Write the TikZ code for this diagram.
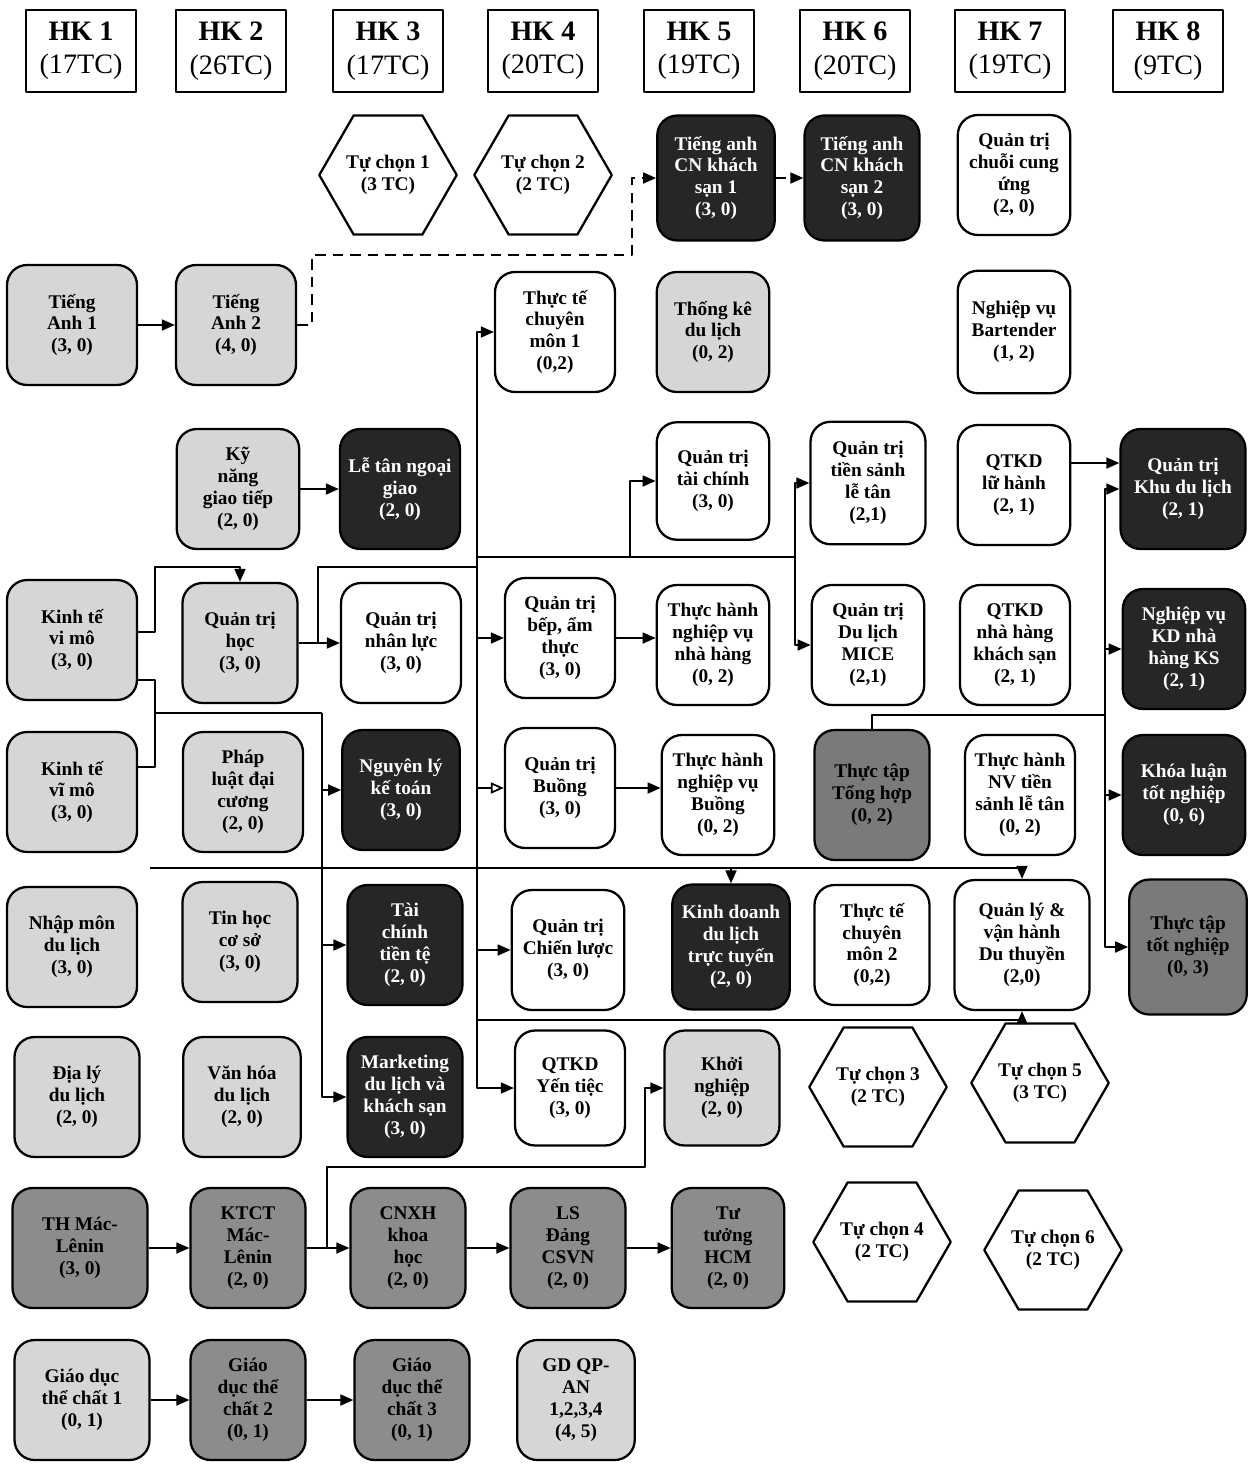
\documentclass[tikz,border=0pt]{standalone}
\usepackage{fontspec}
\setmainfont{Liberation Serif}
\usetikzlibrary{calc,positioning,shapes.geometric,arrows.meta}
\definecolor{BasicGray}{HTML}{D6D6D6}
\definecolor{CoreGray}{HTML}{8C8C8C}
\definecolor{InternGray}{HTML}{7A7A7A}
\definecolor{MajorDark}{HTML}{262626}
\newcommand\subjfont{\fontsize{11}{12.5}\selectfont\bfseries}
\newcommand\termfont{\fontsize{16}{19}\selectfont}

\tikzset{
  course/.style={draw,line width=1.3pt,rounded corners=0.4cm,align=center,font=\subjfont,
    minimum width=2.3cm,minimum height=2.4cm,inner sep=2pt},
  basic/.style={course,fill=BasicGray},
  core/.style={course,fill=CoreGray},
  intern/.style={course,fill=InternGray},
  major/.style={course,fill=MajorDark,text=white},
  plain/.style={course,fill=white},
  elective/.style={draw,line width=1.3pt,regular polygon,regular polygon sides=6,
    minimum size=2.75cm,inner sep=0pt,align=center,font=\subjfont},
  term/.style={draw,line width=1pt,minimum width=2.2cm,minimum height=1.64cm,align=center,font=\termfont},
  link/.style={line width=1pt,-{Triangle[length=2.6mm,width=2.2mm]}},
  wire/.style={line width=1pt},
  dashlink/.style={link,dash pattern=on 6pt off 4pt},
}

\begin{document}
\begin{tikzpicture}[x=0.02cm,y=-0.02cm,line join=round]
  \useasboundingbox[fill=white] (0,0) rectangle (1252,1464);
  % semesters
  \foreach \x/\k/\tc in {81/1/17,231/2/26,388/3/17,543/4/20,699/5/19,855/6/20,1010/7/19,1168/8/9}
    \node[term] (hk\k) at (\x,51) {\textbf{HK \k}\\(\tc TC)};

  % HK 1
  \node[basic,minimum width=2.6cm] (ta1) at (72,325) {Tiếng\\Anh 1\\(3, 0)};
  \node[basic,minimum width=2.6cm] (ktvi) at (72,640) {Kinh tế\\vi mô\\(3, 0)};
  \node[basic,minimum width=2.6cm] (ktvm) at (72,792) {Kinh tế\\vĩ mô\\(3, 0)};
  \node[basic,minimum width=2.6cm] (nmdl) at (72,947) {Nhập môn\\du lịch\\(3, 0)};
  \node[basic,minimum width=2.5cm] (dldl) at (77,1097) {Địa lý\\du lịch\\(2, 0)};
  \node[core,minimum width=2.7cm] (mln) at (80,1248) {TH Mác-\\Lênin\\(3, 0)};
  \node[basic,minimum width=2.7cm] (gd1) at (82,1400) {Giáo dục\\thể chất 1\\(0, 1)};

  % HK 2
  \node[basic,minimum width=2.4cm] (ta2) at (236,325) {Tiếng\\Anh 2\\(4, 0)};
  \node[basic,minimum width=2.45cm] (kngt) at (238,489) {Kỹ\\năng\\giao tiếp\\(2, 0)};
  \node[basic] (qth) at (240,643) {Quản trị\\học\\(3, 0)};
  \node[basic,minimum width=2.4cm] (pldc) at (243,792) {Pháp\\luật đại\\cương\\(2, 0)};
  \node[basic] (thcs) at (240,942) {Tin học\\cơ sở\\(3, 0)};
  \node[basic,minimum width=2.35cm] (vhdl) at (242,1097) {Văn hóa\\du lịch\\(2, 0)};
  \node[core] (ktct) at (248,1248) {KTCT\\Mác-\\Lênin\\(2, 0)};
  \node[core] (gd2) at (248,1400) {Giáo\\dục thể\\chất 2\\(0, 1)};

  % HK 3
  \node[elective] (tc1) at (388,175) {Tự chọn 1\\(3 TC)};
  \node[major,minimum width=2.4cm] (ltng) at (400,489) {Lễ tân ngoại\\giao\\(2, 0)};
  \node[plain,minimum width=2.4cm] (qtnl) at (401,643) {Quản trị\\nhân lực\\(3, 0)};
  \node[major,minimum width=2.35cm] (nlkt) at (401,790) {Nguyên lý\\kế toán\\(3, 0)};
  \node[major] (tctt) at (405,945) {Tài\\chính\\tiền tệ\\(2, 0)};
  \node[major] (mkt) at (405,1097) {Marketing\\du lịch và\\khách sạn\\(3, 0)};
  \node[core] (cnxh) at (408,1248) {CNXH\\khoa\\học\\(2, 0)};
  \node[core] (gd3) at (412,1400) {Giáo\\dục thể\\chất 3\\(0, 1)};

  % HK 4
  \node[elective] (tc2) at (543,175) {Tự chọn 2\\(2 TC)};
  \node[plain,minimum width=2.4cm] (tt1) at (555,332) {Thực tế\\chuyên\\môn 1\\(0,2)};
  \node[plain,minimum width=2.2cm] (qtbep) at (560,638) {Quản trị\\bếp, ẩm\\thực\\(3, 0)};
  \node[plain,minimum width=2.2cm] (qtbuong) at (560,788) {Quản trị\\Buồng\\(3, 0)};
  \node[plain,minimum width=2.25cm] (qtcl) at (568,950) {Quản trị\\Chiến lược\\(3, 0)};
  \node[plain,minimum width=2.2cm,minimum height=2.3cm] (yentiec) at (570,1088) {QTKD\\Yến tiệc\\(3, 0)};
  \node[core] (lsd) at (568,1248) {LS\\Đảng\\CSVN\\(2, 0)};
  \node[basic,minimum width=2.35cm] (gdqp) at (576,1400) {GD QP-\\AN\\1,2,3,4\\(4, 5)};

  % HK 5
  \node[major,minimum width=2.35cm,minimum height=2.5cm] (tacn1) at (716,178) {Tiếng anh\\CN khách\\sạn 1\\(3, 0)};
  \node[basic,minimum width=2.25cm] (tkdl) at (713,332) {Thống kê\\du lịch\\(0, 2)};
  \node[plain,minimum width=2.25cm,minimum height=2.35cm] (qttc) at (713,481) {Quản trị\\tài chính\\(3, 0)};
  \node[plain,minimum width=2.25cm] (thnh) at (713,645) {Thực hành\\nghiệp vụ\\nhà hàng\\(0, 2)};
  \node[plain,minimum width=2.25cm] (thbuong) at (718,795) {Thực hành\\nghiệp vụ\\Buồng\\(0, 2)};
  \node[major,minimum width=2.35cm,minimum height=2.5cm] (kdtt) at (731,947) {Kinh doanh\\du lịch\\trực tuyến\\(2, 0)};
  \node[basic,minimum width=2.3cm,minimum height=2.3cm] (khoinghiep) at (722,1088) {Khởi\\nghiệp\\(2, 0)};
  \node[core,minimum width=2.25cm] (hcm) at (728,1248) {Tư\\tưởng\\HCM\\(2, 0)};

  % HK 6
  \node[major,minimum width=2.3cm,minimum height=2.5cm] (tacn2) at (862,178) {Tiếng anh\\CN khách\\sạn 2\\(3, 0)};
  \node[plain,minimum width=2.3cm,minimum height=2.45cm] (qtts) at (868,483) {Quản trị\\tiền sảnh\\lễ tân\\(2,1)};
  \node[plain,minimum width=2.25cm] (mice) at (868,645) {Quản trị\\Du lịch\\MICE\\(2,1)};
  \node[intern,minimum width=2.3cm,minimum height=2.6cm] (ttth) at (872,795) {Thực tập\\Tổng hợp\\(0, 2)};
  \node[plain,minimum width=2.3cm] (tt2) at (872,945) {Thực tế\\chuyên\\môn 2\\(0,2)};
  \node[elective] (tc3) at (878,1087) {Tự chọn 3\\(2 TC)};
  \node[elective] (tc4) at (882,1242) {Tự chọn 4\\(2 TC)};

  % HK 7
  \node[plain,minimum width=2.25cm] (qtccu) at (1014,175) {Quản trị\\chuỗi cung\\ứng\\(2, 0)};
  \node[plain,minimum width=2.25cm,minimum height=2.45cm] (bartender) at (1014,332) {Nghiệp vụ\\Bartender\\(1, 2)};
  \node[plain,minimum width=2.25cm] (qtkdlh) at (1014,485) {QTKD\\lữ hành\\(2, 1)};
  \node[plain,minimum width=2.2cm] (qtkdnh) at (1015,645) {QTKD\\nhà hàng\\khách sạn\\(2, 1)};
  \node[plain,minimum width=2.2cm] (thts) at (1020,795) {Thực hành\\NV tiền\\sảnh lễ tân\\(0, 2)};
  \node[plain,minimum width=2.7cm,minimum height=2.6cm] (dthuyen) at (1022,945) {Quản lý \&\\vận hành\\Du thuyền\\(2,0)};
  \node[elective] (tc5) at (1040,1083) {Tự chọn 5\\(3 TC)};
  \node[elective] (tc6) at (1053,1250) {Tự chọn 6\\(2 TC)};

  % HK 8
  \node[major,minimum width=2.5cm] (qtkdl) at (1183,489) {Quản trị\\Khu du lịch\\(2, 1)};
  \node[major,minimum width=2.45cm] (nvkd) at (1184,649) {Nghiệp vụ\\KD nhà\\hàng KS\\(2, 1)};
  \node[major,minimum width=2.45cm] (kltn) at (1184,795) {Khóa luận\\tốt nghiệp\\(0, 6)};
  \node[intern,minimum width=2.35cm,minimum height=2.7cm] (tttn) at (1188,947) {Thực tập\\tốt nghiệp\\(0, 3)};

  % branch points
  \coordinate (dA) at (312,255);
  \coordinate (dB) at (632,255);
  \coordinate (kA) at (155,567);
  \coordinate (kB) at (155,713);
  \coordinate (kC) at (322,713);
  \coordinate (qA) at (318,567);
  \coordinate (vA) at (477,567);
  \coordinate (vB) at (477,1020);
  \coordinate (hA) at (477,557);
  \coordinate (hB) at (795,557);
  \coordinate (hC) at (630,557);
  \coordinate (tA) at (1105,715);
  \coordinate (nA) at (150,868);
  \coordinate (mA) at (327,1167);
  \coordinate (mB) at (645,1167);

  % English line
  \draw[link] (ta1) -- (ta2);
  \draw[dashlink] (ta2.east) -| (dA) -- (dB) |- (tacn1.west);
  \draw[dashlink] (tacn1) -- (tacn2);
  \draw[link] (kngt) -- (ltng);

  % economics
  \draw[link] ($(ktvi.east)+(0,-8)$) -| (kA) -| (qth.north);
  \draw[wire] ($(ktvi.east)+(0,40)$) -| (kB) |- ($(ktvm.east)+(0,-25)$);
  \draw[wire] (kB) -- (kC);
  \draw[link] (kC) |- (nlkt.west);
  \draw[link] (kC) |- (tctt.west);
  \draw[link] (kC) |- (mkt.west);

  % management
  \draw[link] (qth) -- (qtnl);
  \draw[wire] (qA |- qth.east) -- (qA) -- (vA);
  \draw[link] (vA) |- (tt1.west);
  \draw[link] (vA) |- (qtbep.west);
  \draw[link,-{Triangle[open,length=2.6mm,width=2.2mm]}] (vA) |- (qtbuong.west);
  \draw[link] (vA) |- (qtcl.west);
  \draw[link] (vA) |- (yentiec.west);
  \draw[link] (vB) -| (dthuyen.south);
  \draw[wire] (hA) -- (hB);
  \draw[link] (hC) |- (qttc.west);
  \draw[link] (hB) |- (qtts.west);
  \draw[link] (hB) |- (mice.west);
  \draw[link] (qtbep.east) -- (qtbep.east -| thnh.west);
  \draw[link] (qtbuong.east) -- (qtbuong.east -| thbuong.west);

  % tourism
  \draw[link] (nA) -| (kdtt.north);
  \draw[link] (nA) -| (dthuyen.north);

  % final year
  \draw[wire] (ttth.north) |- (tA);
  \draw[link] (tA) |- (qtkdl.west);
  \draw[link] (tA) |- (nvkd.west);
  \draw[link] (tA) |- (kltn.west);
  \draw[link] (tA) |- (tttn.west);
  \draw[link] ($(qtkdlh.east)+(0,-22)$) -- ($(qtkdl.west)+(0,-26)$);

  % politics
  \draw[link] (mln) -- (ktct);
  \draw[link] (ktct) -- (cnxh);
  \draw[link] (cnxh) -- (lsd);
  \draw[link] (lsd) -- (hcm);
  \draw[link] (mA |- cnxh.west) -- (mA) -- (mB) |- (khoinghiep.west);

  % physical education
  \draw[link] (gd1) -- (gd2);
  \draw[link] (gd2) -- (gd3);
\end{tikzpicture}
\end{document}
